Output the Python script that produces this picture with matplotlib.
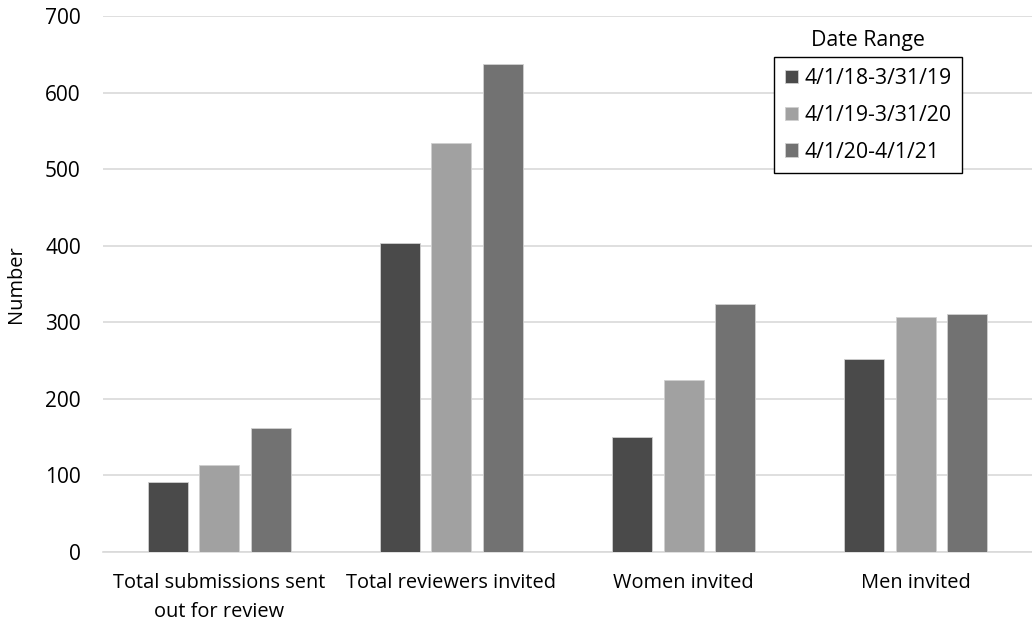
import numpy as np
import matplotlib
matplotlib.use("Agg")
import matplotlib.pyplot as plt

plt.rcParams["font.family"] = ["Open Sans", "DejaVu Sans"]

categories = ["Total submissions sent\nout for review", "Total reviewers invited",
              "Women invited", "Men invited"]
series_names = ["4/1/18-3/31/19", "4/1/19-3/31/20", "4/1/20-4/1/21"]
vals_1819 = [91, 404, 150, 252]
vals_1920 = [114, 534, 225, 307]
vals_2021 = [162, 637, 324, 311]
colors = ["#4a4a4a", "#a1a1a1", "#727272"]

fig = plt.figure(figsize=(10.32, 6.23), dpi=100)
ax = fig.add_axes([0.0998, 0.114, 0.9002, 0.86])

x = np.arange(len(categories))
width = 0.172
step = 0.222
for i, (vals, name) in enumerate(zip([vals_1819, vals_1920, vals_2021], series_names)):
    ax.bar(x + (i - 1) * step, vals, width, color=colors[i], label=name,
           edgecolor="#d0d0d0", linewidth=0.6, zorder=3)

ax.set_xlim(-0.5, 3.5)
ax.set_ylim(0, 700)
ax.set_yticks(range(0, 701, 100))
ax.yaxis.grid(True, color="#d9d9d9", linewidth=1.2, zorder=0)
ax.set_xticks(x)
ax.set_xticklabels(categories, fontsize=14.4, linespacing=1.6)
ax.tick_params(axis="y", labelsize=15, length=0, pad=16)
ax.tick_params(axis="x", length=0, pad=15)
for s in ["top", "right", "left"]:
    ax.spines[s].set_visible(False)
ax.spines["bottom"].set_color("#d9d9d9")
ax.spines["bottom"].set_linewidth(1.2)
ax.set_ylabel("Number", fontsize=14.4)
ax.yaxis.set_label_coords(-0.083, 0.5)

leg = ax.legend(loc="upper right", bbox_to_anchor=(0.9246, 0.9235), fontsize=15.3,
                handlelength=0.6, handleheight=0.6, handletextpad=0.3,
                labelspacing=0.75, borderpad=0.5, borderaxespad=0,
                fancybox=False, framealpha=1)
leg.get_frame().set_edgecolor("black")
leg.get_frame().set_linewidth(1.0)
ax.text(0.823, 0.955, "Date Range", transform=ax.transAxes, ha="center", va="center",
        fontsize=15.3)

fig.savefig("out.png", dpi=100)
